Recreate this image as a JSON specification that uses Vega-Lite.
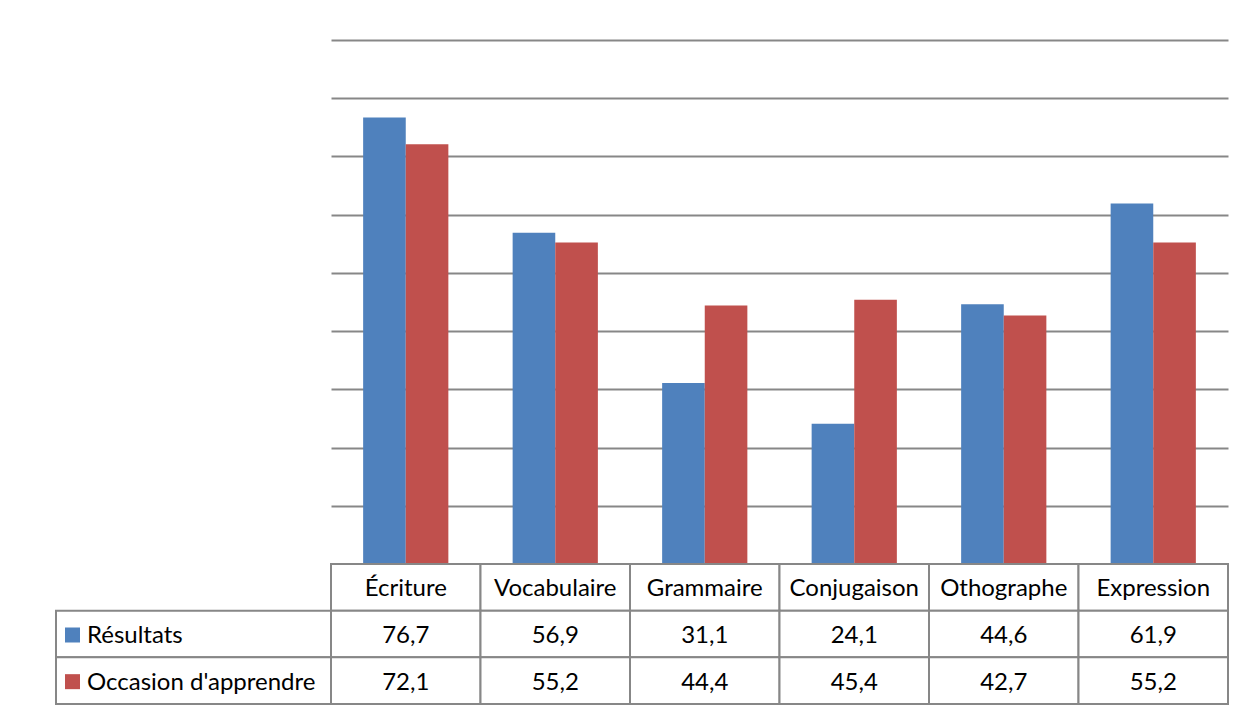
{
  "$schema": "https://vega.github.io/schema/vega-lite/v6.json",
  "background": "white",
  "padding": {"left": 55, "top": 40, "right": 17, "bottom": 4},
  "spacing": 0,
  "bounds": "flush",
  "columns": 2,
  "datasets": {
    "valeurs": [
      {"categorie": "Écriture", "serie": "Résultats", "valeur": 76.7},
      {"categorie": "Écriture", "serie": "Occasion d'apprendre", "valeur": 72.1},
      {"categorie": "Vocabulaire", "serie": "Résultats", "valeur": 56.9},
      {"categorie": "Vocabulaire", "serie": "Occasion d'apprendre", "valeur": 55.2},
      {"categorie": "Grammaire", "serie": "Résultats", "valeur": 31.1},
      {"categorie": "Grammaire", "serie": "Occasion d'apprendre", "valeur": 44.4},
      {"categorie": "Conjugaison", "serie": "Résultats", "valeur": 24.1},
      {"categorie": "Conjugaison", "serie": "Occasion d'apprendre", "valeur": 45.4},
      {"categorie": "Othographe", "serie": "Résultats", "valeur": 44.6},
      {"categorie": "Othographe", "serie": "Occasion d'apprendre", "valeur": 42.7},
      {"categorie": "Expression", "serie": "Résultats", "valeur": 61.9},
      {"categorie": "Expression", "serie": "Occasion d'apprendre", "valeur": 55.2}
    ]
  },
  "config": {
    "view": {"stroke": null},
    "font": "Lato",
    "text": {"fontSize": 24, "color": "#000000", "dy": 2},
    "locale": {"number": {"decimal": ",", "thousands": " ", "grouping": [3], "currency": ["", " €"]}}
  },
  "concat": [
    {
      "width": 275,
      "height": 524,
      "data": {"values": [{}]},
      "mark": {"type": "point", "opacity": 0},
      "encoding": {}
    },
    {
      "width": 897,
      "height": 524,
      "data": {"name": "valeurs"},
      "mark": {"type": "bar"},
      "encoding": {
        "x": {
          "field": "categorie", "type": "nominal",
          "sort": ["Écriture", "Vocabulaire", "Grammaire", "Conjugaison", "Othographe", "Expression"],
          "scale": {"paddingInner": 0.43, "paddingOuter": 0.215},
          "axis": null
        },
        "xOffset": {
          "field": "serie", "type": "nominal",
          "sort": ["Résultats", "Occasion d'apprendre"],
          "scale": {"paddingInner": 0, "paddingOuter": 0}
        },
        "y": {
          "field": "valeur", "type": "quantitative",
          "scale": {"domain": [0, 90], "nice": false},
          "axis": {
            "values": [0, 10, 20, 30, 40, 50, 60, 70, 80, 90],
            "grid": true, "gridColor": "#878787", "gridWidth": 2,
            "labels": false, "ticks": false, "domain": false, "title": null
          }
        },
        "color": {
          "field": "serie", "type": "nominal",
          "scale": {"domain": ["Résultats", "Occasion d'apprendre"], "range": ["#4F81BD", "#C0504D"]},
          "legend": null
        }
      }
    },
    {
      "width": 275,
      "height": 140,
      "data": {"name": "valeurs"},
      "transform": [{"aggregate": [{"op": "count", "as": "n"}], "groupby": ["serie"]}],
      "encoding": {
        "y": {
          "field": "serie", "type": "nominal",
          "scale": {"domain": ["Catégorie", "Résultats", "Occasion d'apprendre"], "paddingInner": 0, "paddingOuter": 0},
          "axis": null
        }
      },
      "layer": [
        {"mark": {"type": "rect", "fill": "white", "stroke": "#878787", "strokeWidth": 2}},
        {
          "mark": {"type": "point", "shape": "square", "filled": true, "size": 225, "opacity": 1, "xOffset": 16.5, "yOffset": 1},
          "encoding": {
            "x": {"datum": "légende", "type": "nominal", "axis": null, "scale": {"type": "point", "padding": 0, "align": 0}},
            "color": {
              "field": "serie", "type": "nominal",
              "scale": {"domain": ["Résultats", "Occasion d'apprendre"], "range": ["#4F81BD", "#C0504D"]},
              "legend": null
            }
          }
        },
        {
          "mark": {"type": "text", "align": "left", "baseline": "middle", "dx": 31},
          "encoding": {
            "x": {"datum": "légende", "type": "nominal", "axis": null},
            "text": {"field": "serie"}
          }
        }
      ]
    },
    {
      "width": 897,
      "height": 140,
      "data": {"name": "valeurs"},
      "encoding": {
        "x": {
          "field": "categorie", "type": "nominal",
          "sort": ["Écriture", "Vocabulaire", "Grammaire", "Conjugaison", "Othographe", "Expression"],
          "scale": {"paddingInner": 0, "paddingOuter": 0},
          "axis": null
        }
      },
      "layer": [
        {
          "transform": [{"aggregate": [{"op": "count", "as": "n"}], "groupby": ["categorie"]}],
          "mark": {"type": "rect", "fill": "white", "stroke": "#878787", "strokeWidth": 2},
          "encoding": {
            "y": {"datum": "Catégorie", "type": "nominal", "scale": {"domain": ["Catégorie", "Résultats", "Occasion d'apprendre"], "paddingInner": 0, "paddingOuter": 0}, "axis": null}
          }
        },
        {
          "transform": [{"aggregate": [{"op": "count", "as": "n"}], "groupby": ["categorie"]}],
          "mark": {"type": "text", "align": "center", "baseline": "middle"},
          "encoding": {
            "y": {"datum": "Catégorie", "type": "nominal", "axis": null},
            "text": {"field": "categorie"}
          }
        },
        {
          "mark": {"type": "rect", "fill": "white", "stroke": "#878787", "strokeWidth": 2},
          "encoding": {
            "y": {"field": "serie", "type": "nominal", "axis": null}
          }
        },
        {
          "mark": {"type": "text", "align": "center", "baseline": "middle"},
          "encoding": {
            "y": {"field": "serie", "type": "nominal", "axis": null},
            "text": {"field": "valeur", "type": "quantitative", "format": ".1f"}
          }
        }
      ]
    }
  ]
}
